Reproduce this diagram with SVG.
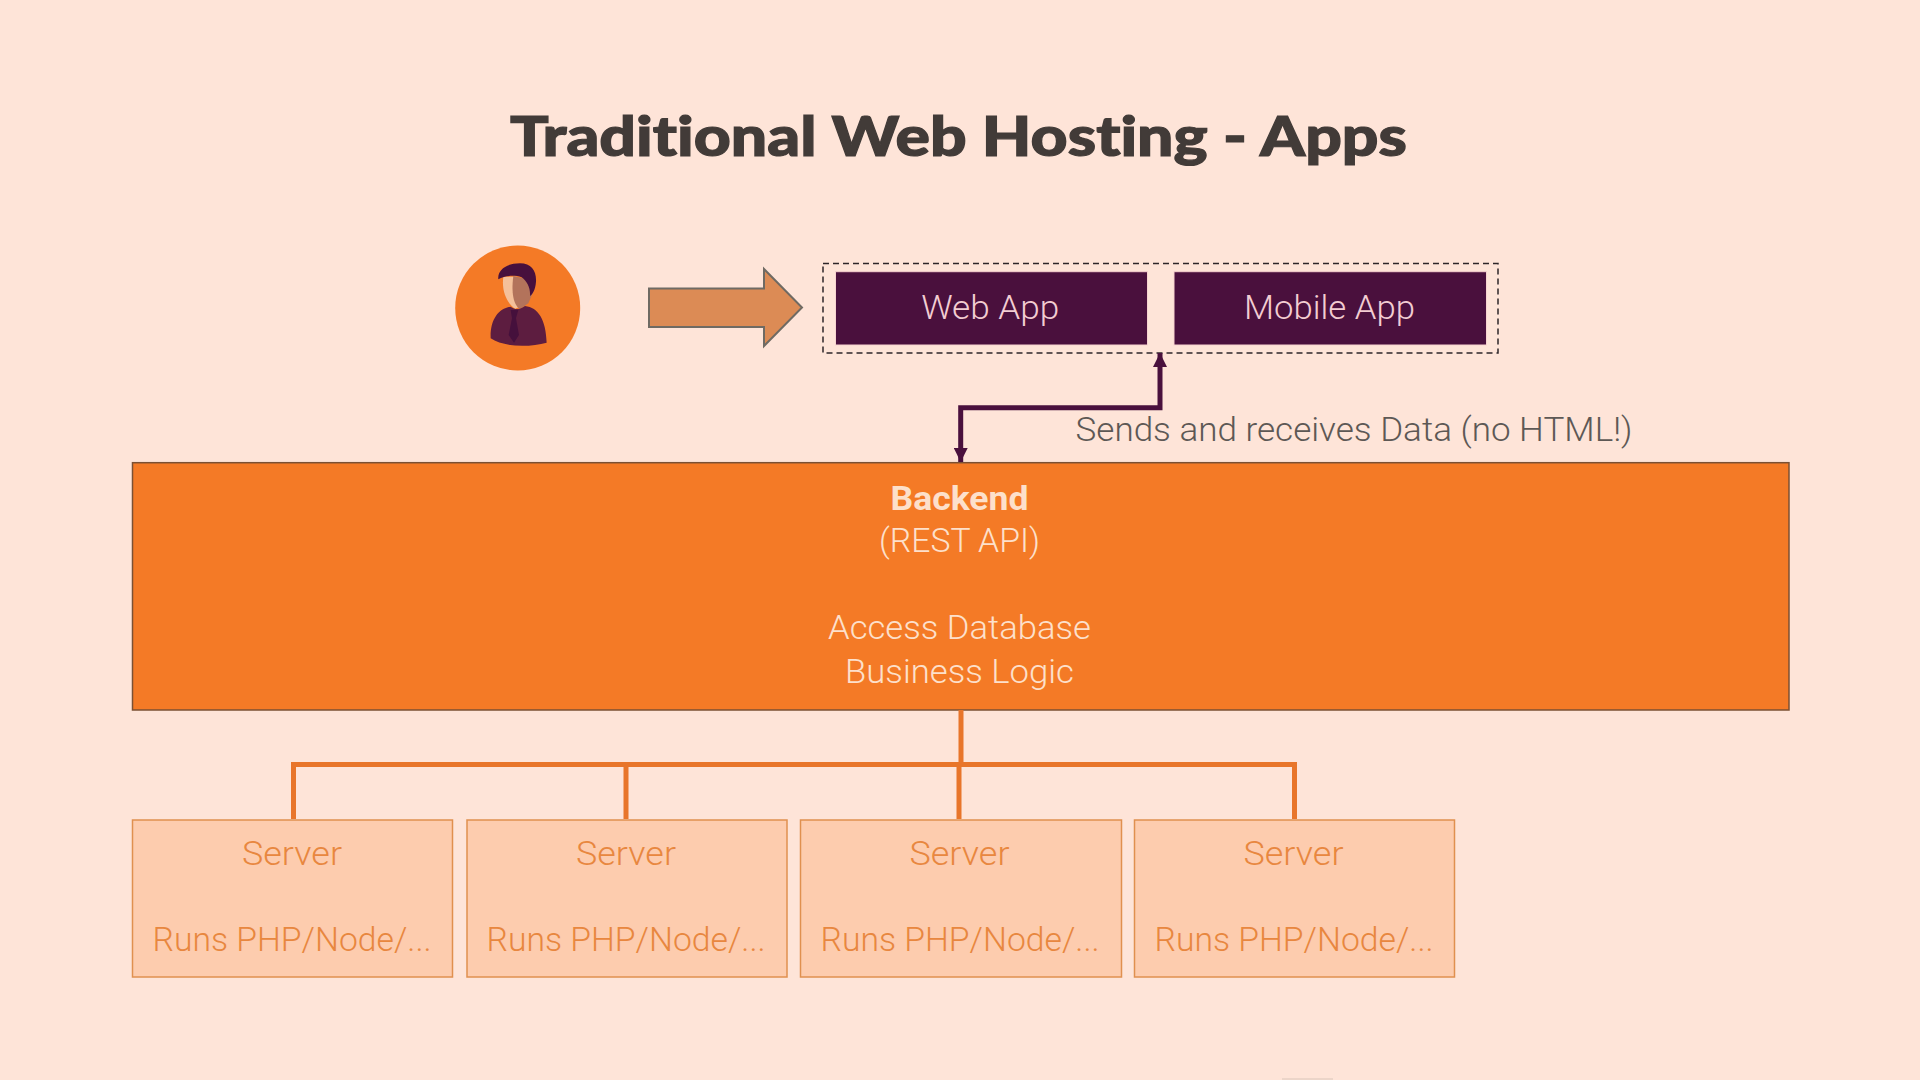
<svg xmlns="http://www.w3.org/2000/svg" width="1920" height="1080" viewBox="0 0 1920 1080">
<style>
text{font-family:"Roboto","Liberation Sans",sans-serif;font-weight:300;font-size:33px}
.title{font-family:"Lato","Liberation Sans",sans-serif;font-weight:900;font-size:56px;fill:#423b38;stroke:#423b38;stroke-width:1.2;font-variant-ligatures:none}
.app{fill:#f3cdd2}
.be{fill:#fde0cb}
.srv rect{fill:#fdccae;stroke:#e0904f;stroke-width:1.500}
.srv text{fill:#e8873f}
.apprect{fill:#4a103d;stroke:#f7d3d0;stroke-width:1}
.wire{fill:none;stroke:#e8752a;stroke-width:5}
</style>
<defs>
<marker id="ah" viewBox="0 0 10 10" refX="10" refY="5" markerWidth="14" markerHeight="14" markerUnits="userSpaceOnUse" orient="auto-start-reverse"><path d="M0 0L10 5L0 10z" fill="#4a103d"/></marker>
</defs>
<rect id="background" width="1920" height="1080" fill="#fee4d8"/>
<rect x="1282" y="1078" width="51" height="2" fill="#ecd5c9"/>
<text class="title" x="510" y="156" textLength="897" lengthAdjust="spacingAndGlyphs">Traditional Web Hosting - Apps</text>
<g id="user">
<circle cx="517.7" cy="308" r="62.500" fill="#f47a26"/>
<g transform="translate(420 220) scale(.3333)">
<path d="M250 170C244 215 262 250 285 266L300 260L290 170Z" fill="#f4c09a"/>
<path d="M280 168L332 180L340 215L325 250L300 268C285 258 272 230 280 168Z" fill="#b3735b"/>
<path d="M235 178C232 150 258 130 300 130C335 130 350 155 348 185C346 210 338 222 330 228C332 205 322 185 305 172C285 165 255 166 235 178Z" fill="#47103d"/>
<path d="M212 355C210 300 235 265 272 260C285 270 300 270 315 258C355 262 378 300 380 368C330 382 250 382 212 355Z" fill="#5d1d40"/>
<path d="M272 270L295 270L288 295L297 345L282 368L266 345L276 295Z" fill="#45103c"/>
</g>
</g>
<g id="arrow">
<path d="M649 288.500H764V269L802 307.500L764 346V327H649Z" fill="#dc8b55" stroke="#6f6a63" stroke-width="2"/>
</g>
<g id="apps">
<rect x="823" y="263.500" width="675" height="89.500" fill="none" stroke="#2e2529" stroke-width="1.500" stroke-dasharray="6 4"/>
<g id="web-app">
<rect class="apprect" x="835.500" y="271.700" width="312" height="73.300"/>
<text class="app" x="921.200" y="318.500" textLength="138" lengthAdjust="spacingAndGlyphs">Web App</text>
</g>
<g id="mobile-app">
<rect class="apprect" x="1174" y="271.700" width="312.500" height="73.300"/>
<text class="app" x="1244" y="318.500" textLength="171" lengthAdjust="spacingAndGlyphs">Mobile App</text>
</g>
</g>
<g id="backend">
<rect x="132.500" y="462.700" width="1656.500" height="247.300" fill="#f47a26" stroke="#7b5033" stroke-width="1.500"/>
<text class="be" x="890.500" y="510" style="font-weight:700" textLength="138" lengthAdjust="spacingAndGlyphs">Backend</text>
<text class="be" x="879" y="552" textLength="161" lengthAdjust="spacingAndGlyphs">(REST API)</text>
<text class="be" x="828" y="639" textLength="263" lengthAdjust="spacingAndGlyphs">Access Database</text>
<text class="be" x="845" y="683" textLength="229" lengthAdjust="spacingAndGlyphs">Business Logic</text>
</g>
<g id="connectors">
<path d="M1160 353V407.700H960.700V462" fill="none" stroke="#4a103d" stroke-width="5" marker-start="url(#ah)" marker-end="url(#ah)"/>
<path class="wire" d="M961 710V764.500M293.500 819V764.500H1294.500V819M626 764.500V819M959 764.500V819"/>
</g>
<text id="data-label" x="1075.500" y="441" fill="#5d5855" textLength="557" lengthAdjust="spacingAndGlyphs">Sends and receives Data (no HTML!)</text>
<g id="server-1" class="srv">
<rect x="132.500" y="820" width="320" height="157"/>
<text x="242" y="865" textLength="100" lengthAdjust="spacingAndGlyphs">Server</text>
<text x="152.500" y="951" textLength="279" lengthAdjust="spacingAndGlyphs">Runs PHP/Node/...</text>
</g>
<g id="server-2" class="srv">
<rect x="467" y="820" width="320" height="157"/>
<text x="576" y="865" textLength="100" lengthAdjust="spacingAndGlyphs">Server</text>
<text x="486.500" y="951" textLength="279" lengthAdjust="spacingAndGlyphs">Runs PHP/Node/...</text>
</g>
<g id="server-3" class="srv">
<rect x="800.500" y="820" width="321" height="157"/>
<text x="909.500" y="865" textLength="100" lengthAdjust="spacingAndGlyphs">Server</text>
<text x="820.500" y="951" textLength="279" lengthAdjust="spacingAndGlyphs">Runs PHP/Node/...</text>
</g>
<g id="server-4" class="srv">
<rect x="1134.500" y="820" width="320" height="157"/>
<text x="1243.500" y="865" textLength="100" lengthAdjust="spacingAndGlyphs">Server</text>
<text x="1154.500" y="951" textLength="279" lengthAdjust="spacingAndGlyphs">Runs PHP/Node/...</text>
</g>
</svg>
